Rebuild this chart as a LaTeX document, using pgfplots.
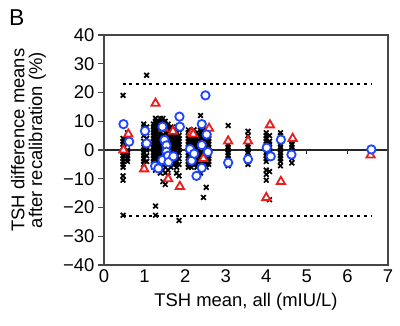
\documentclass[border=0pt]{standalone}
\usepackage{pgfplots}
\pgfplotsset{compat=1.18}
\usepackage{fontspec}
\setmainfont{Liberation Sans}
\definecolor{myblue}{RGB}{30,70,255}
\definecolor{myred}{RGB}{235,30,30}
\definecolor{boxgray}{RGB}{70,70,70}
\begin{document}
\begin{tikzpicture}[x=1bp,y=1bp]
\path[use as bounding box] (0,0) rectangle (400,326);
\node[anchor=base west,font=\fontsize{23}{26}\selectfont,inner sep=0pt] at (9,301) {B};
\begin{axis}[
  at={(104bp,61bp)}, anchor=south west,
  scale only axis, width=284bp, height=230bp,
  xmin=0, xmax=7, ymin=-40, ymax=40,
  axis line style={boxgray, line width=1.3bp},
  xtick={0,1,2,3,4,5,6,7}, xtick style={draw=none},
  ytick={-40,-30,-20,-10,0,10,20,30,40},
  yticklabels={−40,−30,−20,−10,0,10,20,30,40},
  ytick style={boxgray, line width=1.2bp},
  ytick align=outside, tick pos=left,
  major tick length=6bp,
  xticklabel style={font=\fontsize{18.5}{20}\selectfont, yshift=-1bp},
  yticklabel style={font=\fontsize{18.5}{20}\selectfont},
  /pgf/number format/assume math mode=true,
  xlabel={TSH mean, all (mIU/L)},
  xlabel style={font=\fontsize{18.5}{21}\selectfont, at={(rel axis cs:0.5,0)}, anchor=base, yshift=-41bp},
  ylabel={TSH difference means\\after recalibration (\%)},
  ylabel style={font=\fontsize{18.5}{18}\selectfont, align=center, at={(rel axis cs:0,0.543)}, anchor=center, yshift=75.5bp},
  clip=false,
]
% zero line with small ticks
\addplot[black!85, line width=1.5bp, forget plot] coordinates {(0,0) (7,0)};
\addplot[black!85, line width=1.2bp, forget plot] coordinates {(5,0) (5,-1.5)};
\addplot[black!85, line width=1.2bp, forget plot] coordinates {(6,0) (6,-1.5)};
% limits of agreement
\addplot[black, line width=1.8bp, dash pattern=on 3bp off 3.7bp, forget plot] coordinates {(0.46,23) (6.6,23)};
\addplot[black, line width=1.8bp, dash pattern=on 3bp off 3.7bp, forget plot] coordinates {(0.46,-23) (6.6,-23)};
% black crosses
\addplot[only marks, mark=x, mark size=3.3bp, mark options={black, line width=1.7bp}] coordinates {
(0.47,19) (0.47,4) (0.47,3) (0.47,2) (0.47,1) (0.47,-1) (0.47,-2) (0.47,-3) (0.47,-4) (0.47,-5) (0.47,-6) (0.47,-9) (0.47,-10.5) (0.47,-22.7)
(0.58,6) (0.58,5) (0.58,4) (0.58,2) (0.58,0) (0.58,-1) (0.58,-2) (0.58,-3) (0.58,-4)
(0.98,9) (0.98,8) (0.98,7) (0.98,5) (0.98,3) (0.98,1) (0.98,0) (0.98,-1) (0.98,-2) (0.98,-3) (0.98,-4) (0.98,-5)
(1.05,26) (1.05,8) (1.05,6) (1.05,4) (1.05,2) (1.05,0) (1.05,-2) (1.05,-4)
(1.22,9) (1.22,8) (1.22,7) (1.22,6) (1.22,5) (1.22,4) (1.22,3) (1.22,2) (1.22,1) (1.22,0) (1.22,-1) (1.22,-2) (1.22,-3) (1.22,-4) (1.22,-5) (1.22,-6)
(1.27,11) (1.27,10) (1.27,9) (1.27,8) (1.27,7) (1.27,6) (1.27,5) (1.27,4) (1.27,3) (1.27,2) (1.27,1) (1.27,0) (1.27,-1) (1.27,-2) (1.27,-3) (1.27,-4) (1.27,-5) (1.27,-7) (1.27,-19.5) (1.27,-22.7)
(1.33,10) (1.33,9) (1.33,8) (1.33,7) (1.33,6) (1.33,5) (1.33,4) (1.33,3) (1.33,2) (1.33,1) (1.33,0) (1.33,-1) (1.33,-2) (1.33,-3) (1.33,-4) (1.33,-6)
(1.39,11) (1.39,10) (1.39,9) (1.39,8) (1.39,7) (1.39,6) (1.39,5) (1.39,4) (1.39,3) (1.39,2) (1.39,1) (1.39,0) (1.39,-1) (1.39,-2) (1.39,-3) (1.39,-4) (1.39,-5) (1.39,-8)
(1.45,11) (1.45,10) (1.45,9) (1.45,7) (1.45,5) (1.45,3) (1.45,1) (1.45,-1) (1.45,-3) (1.45,-5) (1.45,-7) (1.45,-11)
(1.51,10) (1.51,9) (1.51,8) (1.51,6) (1.51,4) (1.51,2) (1.51,0) (1.51,-2) (1.51,-4) (1.51,-6) (1.51,-8) (1.51,-12)
(1.58,9) (1.58,8) (1.58,7) (1.58,6) (1.58,5) (1.58,3) (1.58,1) (1.58,-1) (1.58,-3) (1.58,-5) (1.58,-7) (1.58,-9)
(1.65,8) (1.65,7) (1.65,6) (1.65,5) (1.65,4) (1.65,3) (1.65,2) (1.65,1) (1.65,0) (1.65,-1) (1.65,-2) (1.65,-3) (1.65,-4) (1.65,-5) (1.65,-6)
(1.72,7) (1.72,6) (1.72,5) (1.72,4) (1.72,3) (1.72,2) (1.72,1) (1.72,0) (1.72,-1) (1.72,-2) (1.72,-3) (1.72,-4) (1.72,-5)
(1.79,8) (1.79,7) (1.79,6) (1.79,5) (1.79,4) (1.79,3) (1.79,2) (1.79,1) (1.79,0) (1.79,-1) (1.79,-2) (1.79,-3) (1.79,-4) (1.79,-5) (1.79,-6) (1.79,-8)
(1.85,7) (1.85,5) (1.85,4) (1.85,3) (1.85,2) (1.85,1) (1.85,0) (1.85,-1) (1.85,-3) (1.85,-5) (1.85,-9) (1.85,-24.5)
(2.08,7) (2.08,6) (2.08,5) (2.08,4) (2.08,3) (2.08,2) (2.08,1) (2.08,0) (2.08,-1) (2.08,-2) (2.08,-3) (2.08,-4) (2.08,-5) (2.08,-6)
(2.15,6) (2.15,5) (2.15,4) (2.15,3) (2.15,2) (2.15,1) (2.15,0) (2.15,-1) (2.15,-2) (2.15,-3) (2.15,-4) (2.15,-5) (2.15,-6)
(2.22,7) (2.22,6) (2.22,5) (2.22,4) (2.22,3) (2.22,2) (2.22,1) (2.22,0) (2.22,-1) (2.22,-2) (2.22,-3) (2.22,-4) (2.22,-5)
(2.29,6) (2.29,5) (2.29,4) (2.29,3) (2.29,2) (2.29,1) (2.29,0) (2.29,-1) (2.29,-2) (2.29,-3) (2.29,-4) (2.29,-5) (2.29,-6)
(2.38,12) (2.38,8) (2.38,7) (2.38,6) (2.38,5) (2.38,4) (2.38,3) (2.38,2) (2.38,1) (2.38,0) (2.38,-1) (2.38,-2) (2.38,-3) (2.38,-4) (2.38,-5) (2.38,-6) (2.38,-7) (2.38,-8)
(2.45,7) (2.45,6) (2.45,5) (2.45,4) (2.45,3) (2.45,2) (2.45,1) (2.45,0) (2.45,-1) (2.45,-2) (2.45,-3) (2.45,-4) (2.45,-5) (2.45,-16.5)
(2.52,6) (2.52,5) (2.52,4) (2.52,3) (2.52,2) (2.52,1) (2.52,0) (2.52,-1) (2.52,-2) (2.52,-3) (2.52,-4) (2.52,-5) (2.52,-6) (2.52,-13)
(2.58,5) (2.58,4) (2.58,3) (2.58,2) (2.58,1) (2.58,0) (2.58,-1) (2.58,-2) (2.58,-3) (2.58,-4) (2.58,-5)
(3.06,8.5) (3.06,2) (3.06,1) (3.06,0) (3.06,-1) (3.06,-2) (3.06,-3) (3.06,-4) (3.06,-5.5)
(3.55,6.5) (3.55,5) (3.55,2) (3.55,1) (3.55,0) (3.55,-1) (3.55,-2) (3.55,-3) (3.55,-4) (3.55,-5)
(4.00,6) (4.00,5) (4.00,4) (4.00,3) (4.00,2) (4.00,1) (4.00,0) (4.00,-1) (4.00,-2) (4.00,-3) (4.00,-4) (4.00,-7) (4.00,-8.5) (4.00,-10.5)
(4.08,5) (4.08,3) (4.08,2) (4.08,1) (4.08,0) (4.08,-1) (4.08,-2) (4.08,-7.5) (4.08,-17.3)
(4.35,6) (4.35,5) (4.35,4) (4.35,3) (4.35,2) (4.35,1) (4.35,0) (4.35,-1) (4.35,-2) (4.35,-3) (4.35,-4) (4.35,-5.5)
(4.63,3) (4.63,2) (4.63,1) (4.63,0) (4.63,-1) (4.63,-2) (4.63,-3) (4.63,-4.5)
};
% red triangles
\addplot[only marks, mark=triangle*, mark size=4.8bp, mark options={draw=myred, fill=white, line width=1.8bp}] coordinates {
(0.48,0) (0.60,5.5) (0.99,-6.6) (1.27,16.2) (1.47,7.5) (1.70,6.5) (1.58,-10) (1.87,-12.7) (2.16,6) (2.20,5.5) (2.59,7.5) (2.45,-3)
(3.06,3.1) (3.55,3.1) (4.09,8.7) (4.00,-16.6) (4.36,-11) (4.65,4) (6.57,-1.8)
};
% blue circles
\addplot[only marks, mark=*, mark size=4.2bp, mark options={draw=myblue, fill=white, line width=1.8bp}] coordinates {
(0.48,9) (0.62,2.9) (1.01,6.6) (1.05,2.3) (1.26,-5.6) (1.34,-6.4) (1.44,8.1) (1.44,-3.5) (1.49,3.5) (1.54,1.6) (1.54,-0.6) (1.58,-2) (1.59,-4.2) (1.71,-2.2)
(1.86,11.6) (1.87,8.1) (2.12,0.3) (2.16,-3.7) (2.22,-1.3) (2.28,-9) (2.41,-6.2) (2.41,1.7) (2.41,9) (2.50,19) (2.53,5.4) (2.56,-0.7)
(3.06,-4.4) (3.55,-3.2) (4.01,0.8) (4.11,-2.2) (4.36,3.6) (4.62,-1.6) (6.59,0.2)
};
% box
\draw[boxgray, line width=1.3bp] (rel axis cs:0,0) rectangle (rel axis cs:1,1);
\end{axis}
\end{tikzpicture}
\end{document}
